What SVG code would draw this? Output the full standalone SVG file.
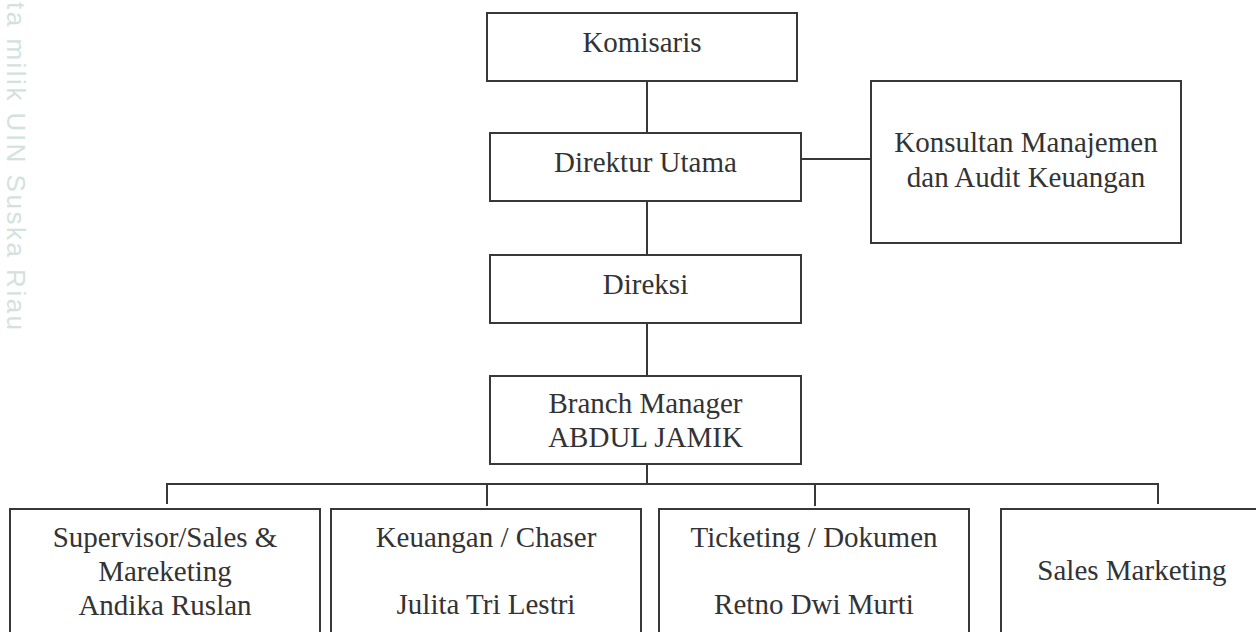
<svg xmlns="http://www.w3.org/2000/svg" width="1256" height="632" viewBox="0 0 1256 632">
<style>
.box{fill:#fff;stroke:#383838;stroke-width:2}
.ln{stroke:#383838;stroke-width:2;fill:none}
.t{font-family:"Liberation Serif","Times New Roman",serif;font-size:29px;fill:#333;text-anchor:middle}
.wm{font-family:"Liberation Sans",Arial,sans-serif;font-size:26px;fill:#d2e2de;letter-spacing:2.5px}
</style>
<rect width="1256" height="632" fill="#fff"/>
<text class="wm" transform="translate(7,2) rotate(90)">ta milik UIN Suska Riau</text>
<g id="connectors">
<path class="ln" d="M647 81V133M647 201V255M647 323V376M647 464V484M801 159H871M167 504V484H1158V504M487 484V506M815 484V506"/>
</g>
<g id="komisaris"><rect class="box" x="487" y="13" width="310" height="68"/><text class="t" x="642" y="52">Komisaris</text></g>
<g id="direktur-utama"><rect class="box" x="490" y="133" width="311" height="68"/><text class="t" x="645.5" y="172">Direktur Utama</text></g>
<g id="konsultan"><rect class="box" x="871" y="81" width="310" height="162"/><text class="t" x="1026" y="152">Konsultan Manajemen</text><text class="t" x="1026" y="187">dan Audit Keuangan</text></g>
<g id="direksi"><rect class="box" x="490" y="255" width="311" height="68"/><text class="t" x="645.5" y="294">Direksi</text></g>
<g id="branch-manager"><rect class="box" x="490" y="376" width="311" height="88"/><text class="t" x="645.5" y="413">Branch Manager</text><text class="t" x="645.5" y="447">ABDUL JAMIK</text></g>
<g id="supervisor"><rect class="box" x="10" y="509" width="310" height="140"/><text class="t" x="165" y="547">Supervisor/Sales &amp;</text><text class="t" x="165" y="581">Mareketing</text><text class="t" x="165" y="615">Andika Ruslan</text></g>
<g id="keuangan"><rect class="box" x="331" y="509" width="310" height="140"/><text class="t" x="486" y="547">Keuangan / Chaser</text><text class="t" x="486" y="614">Julita Tri Lestri</text></g>
<g id="ticketing"><rect class="box" x="659" y="509" width="310" height="140"/><text class="t" x="814" y="547">Ticketing / Dokumen</text><text class="t" x="814" y="614">Retno Dwi Murti</text></g>
<g id="sales-marketing"><rect class="box" x="1001" y="509" width="310" height="140"/><text class="t" x="1132" y="580">Sales Marketing</text></g>
</svg>
